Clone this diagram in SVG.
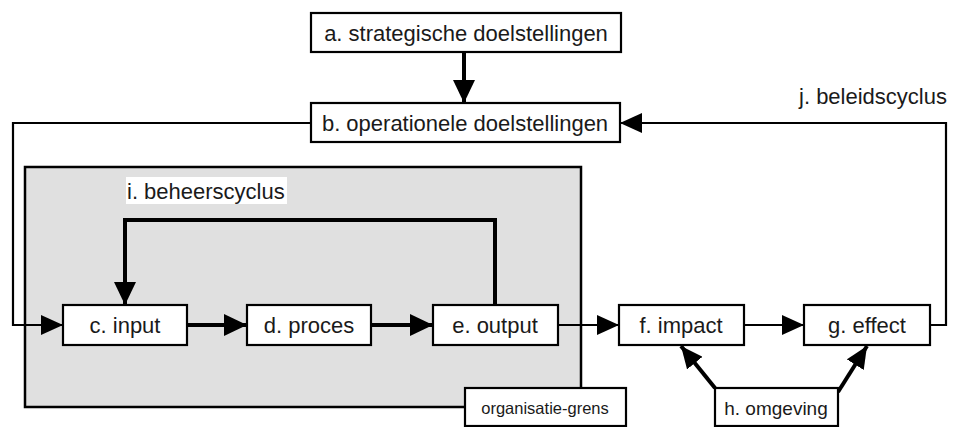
<svg xmlns="http://www.w3.org/2000/svg" width="953" height="427" viewBox="0 0 953 427">
<defs>
<marker id="ah" markerUnits="userSpaceOnUse" markerWidth="24" markerHeight="22" refX="23" refY="11" orient="auto">
<path d="M0,0 L23,11 L0,22 z" fill="#000"/>
</marker>
<marker id="ahs" markerUnits="userSpaceOnUse" markerWidth="22" markerHeight="20" refX="22" refY="10" orient="auto">
<path d="M0,0 L22,10 L0,20 z" fill="#000"/>
</marker>
<style>
.box{fill:#fff;stroke:#000;stroke-width:2.2}
.t{font-family:"Liberation Sans",Arial,sans-serif;font-size:22px;fill:#1a1a1a;text-anchor:middle}
.thin{fill:none;stroke:#000;stroke-width:2.2}
.thick{fill:none;stroke:#000;stroke-width:4}
</style>
</defs>
<rect width="953" height="427" fill="#fff"/>
<g id="organisatie">
<rect x="25" y="167" width="556" height="240" fill="#e0e0e0" stroke="#000" stroke-width="2.5"/>
<rect x="126" y="177" width="161" height="27" fill="#fff"/>
<text x="127" y="199" class="t" style="text-anchor:start">i. beheerscyclus</text>
</g>
<g id="connectors">
<line x1="464" y1="52" x2="464" y2="103" class="thick" marker-end="url(#ah)"/>
<polyline points="311,123 13,123 13,325 63,325" class="thin" marker-end="url(#ahs)"/>
<polyline points="495,305 495,220 125,220 125,305" class="thick" marker-end="url(#ah)"/>
<line x1="187" y1="325" x2="247" y2="325" class="thick" marker-end="url(#ah)"/>
<line x1="371" y1="325" x2="433" y2="325" class="thick" marker-end="url(#ah)"/>
<line x1="558" y1="325" x2="619" y2="325" class="thin" marker-end="url(#ahs)"/>
<line x1="744" y1="325" x2="804" y2="325" class="thin" marker-end="url(#ahs)"/>
<polyline points="930,325 946,325 946,123 620,123" class="thin" marker-end="url(#ahs)"/>
<line x1="715" y1="388" x2="681" y2="346" class="thick" stroke-width="3" marker-end="url(#ahs)"/>
<line x1="838" y1="392" x2="867" y2="346" class="thick" stroke-width="3" marker-end="url(#ahs)"/>
<text x="873" y="104" class="t">j. beleidscyclus</text>
</g>
<g id="a"><rect x="311" y="13" width="310" height="39" class="box"/><text x="466" y="41" class="t">a. strategische doelstellingen</text></g>
<g id="b"><rect x="311" y="103" width="309" height="39" class="box"/><text x="465" y="131" class="t">b. operationele doelstellingen</text></g>
<g id="c"><rect x="63" y="305" width="124" height="40" class="box"/><text x="125" y="333" class="t">c. input</text></g>
<g id="d"><rect x="247" y="305" width="124" height="40" class="box"/><text x="309" y="333" class="t">d. proces</text></g>
<g id="e"><rect x="433" y="305" width="125" height="40" class="box"/><text x="495" y="333" class="t">e. output</text></g>
<g id="f"><rect x="619" y="305" width="125" height="40" class="box"/><text x="681" y="333" class="t">f. impact</text></g>
<g id="g"><rect x="804" y="305" width="126" height="40" class="box"/><text x="867" y="333" class="t">g. effect</text></g>
<g id="h"><rect x="715" y="388" width="123" height="38" class="box" stroke-width="2.6"/><text x="776" y="415" class="t" style="font-size:19px">h. omgeving</text></g>
<g id="grens"><rect x="465" y="388" width="161" height="38" class="box"/><text x="545" y="414" class="t" style="font-size:16.5px">organisatie-grens</text></g>
</svg>
